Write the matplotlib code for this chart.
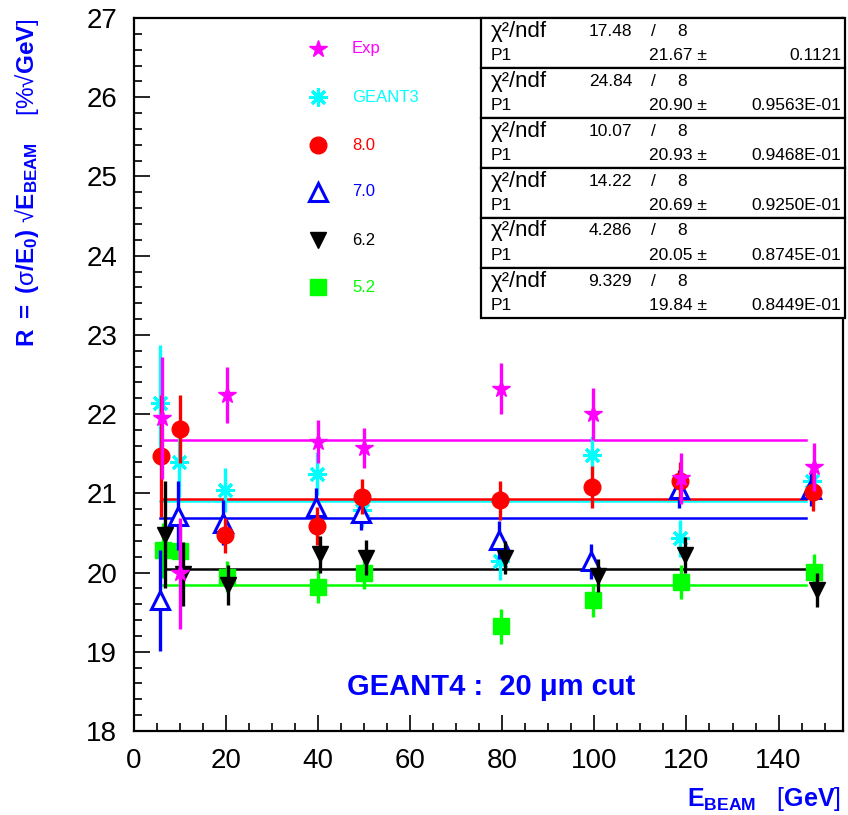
import matplotlib
matplotlib.use('Agg')
import matplotlib.pyplot as plt
from matplotlib.patches import Rectangle
from matplotlib.lines import Line2D
from matplotlib.ticker import MultipleLocator

plt.rcParams['font.family'] = ['Liberation Sans', 'DejaVu Sans']
plt.rcParams['mathtext.fontset'] = 'custom'
plt.rcParams['mathtext.rm'] = 'Liberation Sans'
plt.rcParams['mathtext.bf'] = 'Liberation Sans:bold'
plt.rcParams['mathtext.it'] = 'Liberation Sans:italic'

# ---------------- data ----------------
series_names = ['Exp', 'GEANT3', '8.0', '7.0', '6.2', '5.2']

exp_x = [6.0, 10.0, 20.1, 40.0, 49.9, 79.8, 99.8, 118.9, 147.7]
exp_y = [21.95, 19.99, 22.24, 21.65, 21.57, 22.32, 22.00, 21.19, 21.33]
exp_e = [0.77, 0.70, 0.35, 0.27, 0.25, 0.32, 0.33, 0.32, 0.30]

g3_x = [5.7, 9.7, 19.8, 39.7, 49.6, 79.5, 99.5, 118.6, 147.3]
g3_y = [22.14, 21.40, 21.04, 21.25, 20.79, 20.14, 21.48, 20.43, 21.15]
g3_e = [0.73, 0.45, 0.28, 0.27, 0.22, 0.24, 0.25, 0.23, 0.22]

v80_x = [5.9, 9.9, 19.8, 39.8, 49.6, 79.6, 99.5, 118.6, 147.5]
v80_y = [21.47, 21.81, 20.47, 20.59, 20.96, 20.91, 21.08, 21.16, 21.02]
v80_e = [0.77, 0.43, 0.22, 0.24, 0.22, 0.25, 0.27, 0.24, 0.24]

v70_x = [5.6, 9.6, 19.4, 39.5, 49.3, 79.3, 99.3, 118.3, 147.0]
v70_y = [19.65, 20.72, 20.63, 20.83, 20.75, 20.41, 20.14, 21.06, 21.06]
v70_e = [0.64, 0.44, 0.28, 0.24, 0.21, 0.24, 0.22, 0.24, 0.22]

v62_x = [6.7, 10.7, 20.4, 40.5, 50.4, 80.5, 100.7, 119.6, 148.4]
v62_y = [20.48, 19.98, 19.84, 20.23, 20.19, 20.19, 19.96, 20.22, 19.78]
v62_e = [0.67, 0.40, 0.25, 0.23, 0.22, 0.21, 0.21, 0.23, 0.22]

v52_x = [6.2, 10.1, 20.1, 40.0, 49.9, 79.8, 99.8, 118.9, 147.7]
v52_y = [20.28, 20.27, 19.95, 19.82, 19.99, 19.32, 19.65, 19.88, 20.01]
v52_e = [0.35, 0.30, 0.20, 0.21, 0.20, 0.22, 0.21, 0.22, 0.22]

fit_p1 = [21.67, 20.90, 20.93, 20.69, 20.05, 19.84]
fit_p1_err = ['0.1121', '0.9563E-01', '0.9468E-01', '0.9250E-01', '0.8745E-01', '0.8449E-01']
fit_chi2 = ['17.48', '24.84', '10.07', '14.22', '4.286', '9.329']
fit_ndf = ['8', '8', '8', '8', '8', '8']
fit_xmax = 146.0

# ---------------- styles ----------------
colors = ['#ff00ff', '#00ffff', '#ff0000', '#0000ff', '#000000', '#00ff00']
markers = ['*', (8, 2, 0), 'o', '^', 'v', 's']
msizes = [13, 13, 12, 13, 11.5, 11]
mfcs = ['#ff00ff', '#00ffff', '#ff0000', 'white', '#000000', '#00ff00']
mews = [1, 2.2, 1, 2.2, 1, 1]
zorders = [9, 4, 6, 5, 8, 3]

data = [(exp_x, exp_y, exp_e), (g3_x, g3_y, g3_e), (v80_x, v80_y, v80_e),
        (v70_x, v70_y, v70_e), (v62_x, v62_y, v62_e), (v52_x, v52_y, v52_e)]

W, H = 848, 815
fig = plt.figure(figsize=(W / 100, H / 100), dpi=100)
ax = fig.add_axes([134 / W, 1 - 731 / H, (843 - 134) / W, (731 - 18) / H])


def fx(px):
    return px / W


def fy(py):
    return 1 - py / H


# fit lines
for i, (xs, ys, es) in enumerate(data):
    ax.plot([xs[0], fit_xmax], [fit_p1[i], fit_p1[i]], color=colors[i], lw=1.8, zorder=2)

# data points
for i, (xs, ys, es) in enumerate(data):
    ax.errorbar(xs, ys, yerr=es, fmt='none', ecolor=colors[i], elinewidth=2.4,
                capsize=0, zorder=zorders[i])
    ax.plot(xs, ys, linestyle='none', marker=markers[i], ms=msizes[i],
            mfc=mfcs[i], mec=colors[i], mew=mews[i], zorder=zorders[i] + 0.5)

ax.set_xlim(0, 154)
ax.set_ylim(18, 27)
ax.xaxis.set_major_locator(MultipleLocator(20))
ax.xaxis.set_minor_locator(MultipleLocator(5))
ax.yaxis.set_major_locator(MultipleLocator(1))
ax.yaxis.set_minor_locator(MultipleLocator(0.2))
ax.tick_params(which='both', direction='in', top=False, right=False, width=1.2)
ax.tick_params(which='major', length=11.5, labelsize=20, pad=12)
ax.tick_params(which='minor', length=5.8)
for sp in ax.spines.values():
    sp.set_linewidth(1.6)

# axis titles
fig.text(fx(27), fy(18),
         r'$\mathbf{R\ =\ (}\mathrm{\sigma}\mathbf{/E_0)}\ $√$\mathbf{E_{BEAM}}$    [%√$\mathbf{GeV}$]',
         rotation=90, ha='center', va='top', color='#0000ff', fontsize=17.5)
fig.text(fx(841), fy(806), r'$\mathbf{E_{BEAM}}$   [$\mathbf{GeV}$]',
         ha='right', va='baseline', color='#0000ff', fontsize=18)

# annotation
fig.text(fx(491), fy(687), 'GEANT4 :  20 μm cut', ha='center', va='center',
         color='#0000ff', fontsize=21, fontweight='bold')

# legend
leg_rows = [49, 97, 145, 192, 240, 287]
for i, name in enumerate(series_names):
    fig.add_artist(Line2D([fx(318)], [fy(leg_rows[i])], transform=fig.transFigure,
                          linestyle='none', marker=markers[i], ms=msizes[i],
                          mfc=mfcs[i], mec=colors[i], mew=mews[i]))
    fig.text(fx(352), fy(leg_rows[i]), name, ha='left', va='center',
             color=colors[i], fontsize=12)

# stats boxes
box_left, box_right, box_top, box_h = 481, 845, 18, 50
for i in range(6):
    top = box_top + box_h * i
    fig.add_artist(Rectangle((fx(box_left), fy(top + box_h)), fx(box_right - box_left),
                             box_h / H, transform=fig.transFigure, facecolor='white',
                             edgecolor='black', lw=1.6, zorder=10))
    r1 = top + 13
    r2 = top + 37
    kw = dict(va='center', color='black', zorder=11)
    fig.text(fx(491), fy(r1), 'χ²/ndf', ha='left', fontsize=16, **kw)
    fig.text(fx(632), fy(r1), fit_chi2[i], ha='right', fontsize=12.5, **kw)
    fig.text(fx(653), fy(r1), '/', ha='center', fontsize=12.5, **kw)
    fig.text(fx(682), fy(r1), fit_ndf[i], ha='center', fontsize=12.5, **kw)
    fig.text(fx(491), fy(r2), 'P1', ha='left', fontsize=12.5, **kw)
    fig.text(fx(707), fy(r2), f'{fit_p1[i]:.2f} ±', ha='right', fontsize=12.5, **kw)
    fig.text(fx(841), fy(r2), fit_p1_err[i], ha='right', fontsize=12.5, **kw)

fig.savefig('out.png', dpi=100)
